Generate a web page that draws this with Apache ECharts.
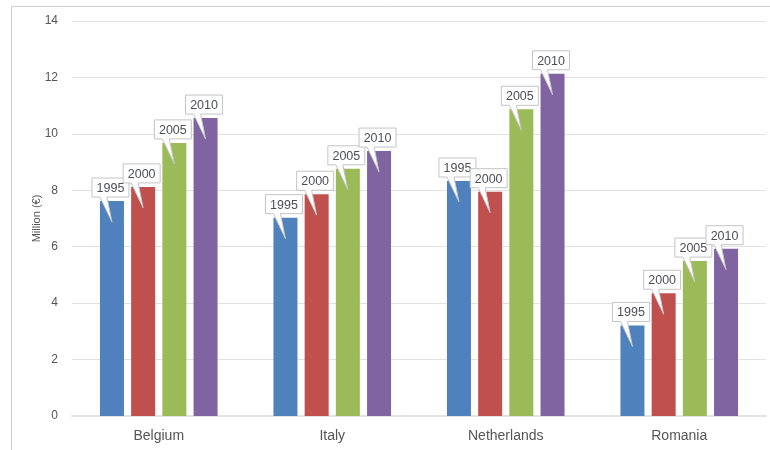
<!DOCTYPE html>
<html>
<head>
<meta charset="utf-8">
<script src="https://cdn.jsdelivr.net/npm/echarts@6/dist/echarts.min.js"></script>
<style>
html, body { margin: 0; padding: 0; background: #fff; }
#main { width: 770px; height: 450px; }
</style>
</head>
<body>
<div id="main"></div>
<script>
var countries = ['Belgium', 'Italy', 'Netherlands', 'Romania'];
var years = ['1995', '2000', '2005', '2010'];
var v1995 = [7.62, 7.03, 8.33, 3.21];
var v2000 = [8.12, 7.86, 7.95, 4.35];
var v2005 = [9.68, 8.76, 10.87, 5.49];
var v2010 = [10.56, 9.39, 12.13, 5.93];
var yTicks = [0, 2, 4, 6, 8, 10, 12, 14];

var colors = ['#4f81bd', '#c0504d', '#9bbb59', '#8064a2'];
var values = [v1995, v2000, v2005, v2010];
var barW = 24, gapPx = 7.2;

var myChart = echarts.init(document.getElementById('main'));

// callout box with a tail pointing into the bar
function calloutSeries(idx) {
	var total = 4 * barW + 3 * gapPx;
	var off = -total / 2 + barW / 2 + idx * (barW + gapPx);
	return {
		type: 'custom',
		name: years[idx] + ' label',
		z: 10,
		clip: false,
		data: values[idx].map(function (v, i) { return [i, v]; }),
		encode: { x: 0, y: 1 },
		renderItem: function (params, api) {
			var p = api.coord([api.value(0), api.value(1)]);
			var x = p[0] + off, y = p[1];
			var L = x - 20, R = x + 17, B = y - 4, T = B - 19;
			return {
				type: 'group',
				children: [{
					type: 'polygon',
					shape: { points: [[L, T], [R, T], [R, B], [x - 5, B], [x, y + 21], [x - 12, B], [L, B]] },
					style: { fill: '#fff', stroke: '#c4c4c4', lineWidth: 1 }
				}, {
					type: 'text',
					style: {
						text: years[idx], x: (L + R) / 2, y: (T + B) / 2 + 1,
						align: 'center', verticalAlign: 'middle',
						fill: '#4a4f58', font: '12.5px "Liberation Sans", Arial, sans-serif'
					}
				}]
			};
		}
	};
}

var series = [];
values.forEach(function (arr, i) {
	series.push({
		name: years[i],
		type: 'bar',
		barWidth: barW,
		barGap: (gapPx / barW * 100) + '%',
		itemStyle: { color: colors[i] },
		data: arr
	});
});
values.forEach(function (arr, i) { series.push(calloutSeries(i)); });

var option = {
	animation: false,
	textStyle: { fontFamily: '"Liberation Sans", Arial, sans-serif' },
	graphic: [{
		type: 'rect',
		shape: { x: 11.5, y: 6.5, width: 800, height: 500 },
		style: { fill: 'none', stroke: '#d0d0d0', lineWidth: 1 },
		silent: true
	}],
	grid: { left: 72, right: 4, top: 21, bottom: 34 },
	xAxis: {
		type: 'category',
		data: countries,
		axisTick: { show: false },
		axisLine: { lineStyle: { color: '#e3e3e3', width: 2 } },
		axisLabel: { color: '#555', fontSize: 14, margin: 13 }
	},
	yAxis: {
		type: 'value',
		min: yTicks[0],
		max: yTicks[yTicks.length - 1],
		interval: 2,
		name: 'Million (€)',
		nameLocation: 'middle',
		nameGap: 30,
		nameMoveOverlap: false,
		nameTextStyle: { color: '#555', fontSize: 11 },
		axisLine: { show: false },
		axisTick: { show: false },
		axisLabel: { color: '#555', fontSize: 12, margin: 14 },
		splitLine: { lineStyle: { color: '#e2e2e2' } }
	},
	series: series
};

myChart.setOption(option);
</script>
</body>
</html>
